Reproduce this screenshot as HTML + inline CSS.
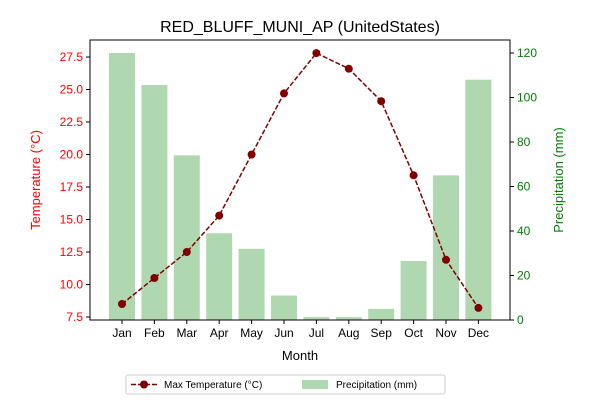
<!DOCTYPE html>
<html><head><meta charset="utf-8"><style>
body{margin:0;background:#fff;}
svg{font-family:"Liberation Sans","DejaVu Sans",sans-serif;}
</style></head><body>
<svg id="chart" width="600" height="400" xmlns="http://www.w3.org/2000/svg">
<rect width="600" height="400" fill="#fff"/>
<text x="300" y="32" font-size="16" text-anchor="middle">RED_BLUFF_MUNI_AP (UnitedStates)</text>
<g id="bars"></g><g id="line"></g><g id="axes"></g>
<rect x="90" y="40" width="420" height="280" fill="none" stroke="#000" stroke-width="1"/>
<text x="300" y="360" font-size="13" text-anchor="middle">Month</text>
<text transform="translate(40,180) rotate(-90)" font-size="13" fill="red" text-anchor="middle">Temperature (°C)</text>
<text transform="translate(563,180) rotate(-90)" font-size="13" fill="green" text-anchor="middle">Precipitation (mm)</text>
<g>
<rect x="126" y="375" width="319" height="19" fill="#fff" stroke="#ccc" rx="2"/>
<line x1="131" y1="384.5" x2="157" y2="384.5" stroke="#800000" stroke-width="1.5" stroke-dasharray="5,2"/>
<circle cx="144" cy="384.5" r="4" fill="#800000"/>
<text x="164" y="388" font-size="10">Max Temperature (°C)</text>
<rect x="302" y="380" width="26" height="9" fill="#b0d8b0"/>
<text x="336" y="388" font-size="10">Precipitation (mm)</text>
</g>
</svg>
<script>
const months=["Jan","Feb","Mar","Apr","May","Jun","Jul","Aug","Sep","Oct","Nov","Dec"];
const temps=[8.5,10.5,12.5,15.3,20.0,24.7,27.8,26.6,24.1,18.4,11.9,8.2];
const precip=[120,105.6,74,39,32,11,1.3,1.3,5,26.5,65,108];
const tempTicks=[7.5,10.0,12.5,15.0,17.5,20.0,22.5,25.0,27.5];
const precipTicks=[0,20,40,60,80,100,120];
const NS="http://www.w3.org/2000/svg";
const X0=90,X1=510,Y0=320,Y1=40;
const xs=i=>122+i*32.4;
const yT=t=>317-(t-7.5)*13;
const yP=p=>320-p*2.225;
function mk(tag,attrs,parent){const e=document.createElementNS(NS,tag);for(const k in attrs)e.setAttribute(k,attrs[k]);parent.appendChild(e);return e;}
const gb=document.getElementById('bars'),gl=document.getElementById('line'),ga=document.getElementById('axes');
precip.forEach((p,i)=>{const r=mk('rect',{x:xs(i)-13,y:yP(p),width:26,height:Y0-yP(p),fill:'#b0d8b0'},gb);

});
const pts=temps.map((t,i)=>xs(i)+','+yT(t)).join(' ');
const pl=mk('polyline',{points:pts,fill:'none',stroke:'#800000','stroke-width':1.5,'stroke-dasharray':'5,2'},gl);


temps.forEach((t,i)=>{const c=mk('circle',{cx:xs(i),cy:yT(t),r:4,fill:'#800000'},gl);

});
months.forEach((m,i)=>{mk('line',{x1:xs(i),x2:xs(i),y1:Y0,y2:Y0+4,stroke:'#000'},ga);
const t=mk('text',{x:xs(i),y:Y0+17,'font-size':12,'text-anchor':'middle'},ga);t.textContent=m;

});
tempTicks.forEach(v=>{const y=yT(v);mk('line',{x1:X0-4,x2:X0,y1:y,y2:y,stroke:'#000'},ga);
const t=mk('text',{x:X0-7,y:y+4,'font-size':12,'text-anchor':'end',fill:'red'},ga);t.textContent=v.toFixed(1);

});
precipTicks.forEach(v=>{const y=yP(v);mk('line',{x1:X1,x2:X1+4,y1:y,y2:y,stroke:'#000'},ga);
const t=mk('text',{x:X1+7,y:y+4,'font-size':12,fill:'green'},ga);t.textContent=v;

});
</script>
</body></html>
